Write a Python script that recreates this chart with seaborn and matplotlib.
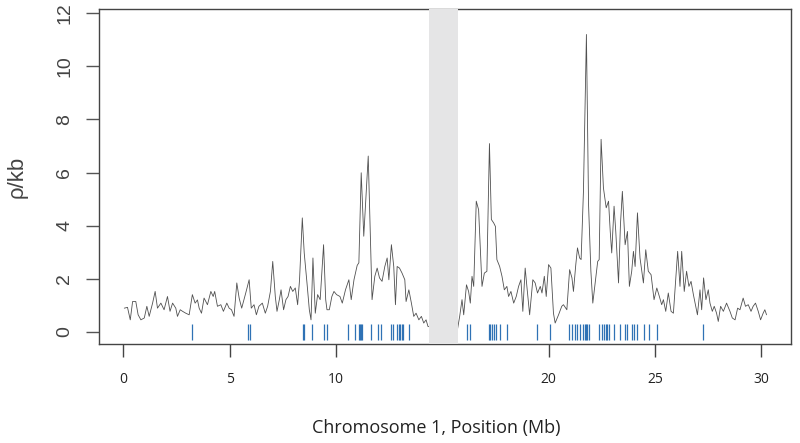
import numpy as np
import pandas as pd
import matplotlib
matplotlib.use('Agg')
import matplotlib.pyplot as plt
import seaborn as sns

# recombination rate estimates along chromosome 1 (Mb, rho/kb)
pos = [0.05, 0.2, 0.33, 0.44, 0.59, 0.7, 0.83, 0.99, 1.11, 1.22, 1.38, 1.5, 1.61, 1.77, 1.92,
       2.08, 2.2, 2.32, 2.47, 2.55, 2.68, 2.79, 2.94, 3.1, 3.25, 3.38, 3.49, 3.57, 3.68, 3.8,
       3.96, 4.12, 4.23, 4.3, 4.43, 4.59, 4.71, 4.87, 4.98, 5.09, 5.21, 5.34, 5.45, 5.57, 5.76,
       5.92, 6.02, 6.15, 6.26, 6.38, 6.54, 6.68, 6.79, 6.92, 7.03, 7.15, 7.23, 7.34, 7.42, 7.54,
       7.65, 7.75, 7.86, 7.97, 8.09, 8.2, 8.29, 8.42, 8.51, 8.64, 8.75, 8.83, 8.92, 9.03, 9.14,
       9.26, 9.42, 9.52, 9.58, 9.69, 9.81, 9.91, 10.03, 10.19, 10.3, 10.45, 10.61, 10.72, 10.85,
       11.0, 11.08, 11.19, 11.31, 11.52, 11.7, 11.83, 11.94, 12.05, 12.17, 12.3, 12.41, 12.49,
       12.61, 12.72, 12.8, 12.88, 12.99, 13.11, 13.24, 13.3, 13.43, 13.55, 13.66, 13.77, 13.9,
       14.02, 14.13, 14.24, 14.33,
       15.7, 15.82, 15.93, 16.01, 16.14, 16.24, 16.32, 16.4, 16.48, 16.6, 16.71, 16.87, 16.98,
       17.1, 17.22, 17.31, 17.42, 17.5, 17.57, 17.7, 17.81, 17.92, 18.04, 18.12, 18.23, 18.36,
       18.48, 18.59, 18.7, 18.79, 18.9, 18.98, 19.11, 19.26, 19.37, 19.48, 19.61, 19.69, 19.8,
       19.89, 20.0, 20.11, 20.23, 20.31, 20.47, 20.62, 20.7, 20.86, 20.99, 21.1, 21.17, 21.28,
       21.36, 21.46, 21.53, 21.64, 21.78, 21.88, 21.99, 22.08, 22.22, 22.31, 22.38, 22.47, 22.58,
       22.71, 22.82, 22.9, 22.97, 23.08, 23.16, 23.29, 23.38, 23.47, 23.6, 23.71, 23.8, 23.91,
       23.99, 24.07, 24.18, 24.3, 24.46, 24.57, 24.69, 24.82, 24.96, 25.09, 25.21, 25.32, 25.4,
       25.51, 25.63, 25.76, 25.87, 25.98, 26.07, 26.18, 26.26, 26.38, 26.49, 26.6, 26.7, 26.81,
       26.89, 27.0, 27.12, 27.2, 27.29, 27.4, 27.51, 27.59, 27.7, 27.79, 27.9, 27.98, 28.09,
       28.22, 28.37, 28.53, 28.64, 28.77, 28.89, 29.0, 29.15, 29.26, 29.39, 29.52, 29.62, 29.73,
       29.86, 29.97, 30.09, 30.17, 30.25]
rho = [0.89, 0.92, 0.45, 1.14, 1.14, 0.64, 0.45, 0.52, 0.96, 0.58, 1.08, 1.52, 0.89, 1.08, 0.83,
       1.33, 0.77, 1.08, 0.89, 0.58, 0.83, 0.77, 0.7, 0.64, 1.4, 1.08, 1.2, 0.89, 0.7, 1.27,
       1.02, 1.52, 1.33, 1.52, 0.96, 1.02, 0.77, 1.08, 0.89, 0.83, 0.58, 1.84, 1.27, 0.89, 1.46,
       1.96, 0.89, 1.02, 0.64, 0.96, 1.08, 0.7, 0.96, 1.52, 2.65, 1.33, 0.77, 1.21, 1.58, 0.83,
       1.21, 1.33, 1.71, 1.52, 1.65, 1.02, 1.96, 4.29, 2.97, 1.84, 0.83, 0.45, 2.78, 0.7, 1.4,
       1.21, 3.28, 1.21, 0.83, 0.83, 1.33, 1.52, 1.4, 1.33, 1.08, 1.58, 1.96, 1.21, 1.96,
       2.5, 2.6, 5.99, 3.6, 6.62, 1.21, 2.09, 2.4, 2.03, 1.9, 2.46, 2.78, 1.96,
       3.28, 2.46, 1.02, 2.46, 2.4, 2.21, 1.96, 1.14, 1.58, 1.08, 0.58, 0.7, 0.45,
       0.58, 0.33, 0.45, 0.2,
       0.01, 0.58, 1.21, 0.64, 1.77, 1.52, 1.08, 2.09, 1.71, 4.92, 4.6, 1.71, 2.21,
       2.28, 7.09, 4.23, 4.1, 3.97, 2.72, 2.46, 2.09, 1.58, 1.71, 1.33, 1.52, 1.08,
       1.33, 1.71, 1.96, 0.77, 2.4, 1.71, 0.64, 1.96, 1.84, 1.46, 1.71, 1.46, 2.09,
       1.33, 2.53, 2.4, 0.7, 0.33, 0.64, 0.96, 1.02, 0.83, 2.34, 2.03, 1.52, 2.53,
       3.16, 2.78, 2.72, 5.29, 11.2, 4.79, 2.28, 1.08, 2.03, 2.65, 2.72, 7.25, 5.42,
       4.67, 4.92, 3.78, 2.97, 4.73, 3.78, 1.84, 4.04, 5.29, 3.28, 3.78, 1.71, 2.28,
       3.03, 2.46, 4.48, 2.78, 1.84, 3.09, 2.28, 2.15, 1.21, 1.65, 1.33, 1.02, 1.21,
       0.77, 1.46, 0.77, 0.7, 1.96, 3.03, 1.71, 3.03, 1.52, 2.28, 1.71, 1.9, 1.4,
       1.08, 0.64, 1.58, 0.83, 2.03, 1.21, 1.58, 1.08, 0.77, 0.96, 0.7, 0.39, 0.96,
       0.77, 1.08, 0.77, 0.52, 0.45, 0.89, 0.83, 1.27, 0.96, 1.02, 0.77, 0.96, 1.08,
       0.77, 0.45, 0.7, 0.83, 0.64]

# hotspot positions (Mb)
hotspots = [3.22, 5.85, 5.95, 8.45, 8.5, 8.87, 9.42, 9.6, 10.57, 10.88, 11.08, 11.13, 11.18,
            11.23, 11.63, 11.99, 12.1, 12.6, 12.68, 12.88, 12.95, 13.02, 13.1, 13.17, 13.43,
            16.17, 16.3, 17.18, 17.26, 17.35, 17.44, 17.54, 17.7, 18.04, 19.45, 20.05,
            20.97, 21.1, 21.22, 21.35, 21.49, 21.6, 21.69, 21.75, 21.8, 21.88,
            22.38, 22.5, 22.63, 22.69, 22.75, 22.82, 23.1, 23.37, 23.6, 23.69, 23.94, 24.04,
            24.15, 24.51, 24.73, 25.09, 27.25]

# centromere gap
gap = (14.38, 15.76)

xticks = [0, 5, 10, 20, 25, 30]
yticks = [0, 2, 4, 6, 8, 10, 12]

sns.set_style('ticks')
plt.rcParams['font.family'] = ['Liberation Sans', 'DejaVu Sans']

fig = plt.figure(figsize=(8, 4.43), dpi=100)
ax = fig.add_axes([0.12375, 0.2235, 0.865, 0.7562])

df = pd.DataFrame({'pos': pos, 'rho': rho})
sns.lineplot(data=df, x='pos', y='rho', ax=ax, color='#505050', lw=0.6,
             estimator=None, sort=False, zorder=2)
ax.axvspan(gap[0], gap[1], color='#e5e5e6', lw=0, zorder=3)
ax.vlines(hotspots, -0.32, 0.28, color='#2f72b5', lw=0.9, zorder=4)

ax.set_xlim(-1.14, 31.4)
ax.set_ylim(-0.46, 12.16)
ax.set_xticks(xticks)
ax.set_yticks(yticks)

for s in ax.spines.values():
    s.set_color('#444444')
    s.set_linewidth(1.0)

ax.tick_params(axis='x', direction='out', length=9, width=1, color='#444444',
               pad=11, labelsize=10, labelcolor='#222222')
ax.tick_params(axis='y', direction='out', length=9.5, width=1, color='#555555',
               pad=9, labelsize=14, labelcolor='#444444')
for lab in ax.get_xticklabels():
    lab.set_fontfamily(['Open Sans', 'DejaVu Sans'])
plt.setp(ax.get_yticklabels(), rotation=90, va='center')

ax.set_xlabel('Chromosome 1, Position (Mb)', fontsize=13, color='#222222',
              family=['Open Sans', 'DejaVu Sans'])
ax.xaxis.label.set_va('center')
ax.xaxis.set_label_coords(0.488, -0.251)
ax.set_ylabel('ρ/kb', fontsize=16, color='#444444')
ax.yaxis.label.set_va('center')
ax.yaxis.set_label_coords(-0.1185, 0.5)

fig.savefig('out.png', dpi=100)
